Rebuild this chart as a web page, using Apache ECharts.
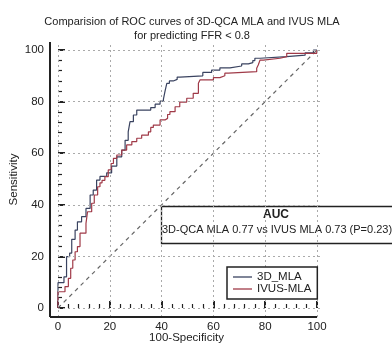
<!DOCTYPE html>
<html><head><meta charset="utf-8">
<script src="https://cdn.jsdelivr.net/npm/echarts@6/dist/echarts.min.js"></script>
<style>html,body{margin:0;padding:0;background:#fff}#c{width:392px;height:346px}</style>
</head><body><div id="c"></div>
<script>
// ---- data ----
const titleLines = ["Comparision of ROC curves of 3D-QCA MLA and IVUS MLA", "for predicting FFR < 0.8"];
const seriesNames = ["3D_MLA", "IVUS-MLA"];
const majorTicks = [0, 20, 40, 60, 80, 100];
const minorTicks = [4, 8, 12, 16, 24, 28, 32, 36, 44, 48, 52, 56, 64, 68, 72, 76, 84, 88, 92, 96];
// 3D_MLA : 100-specificity (x) where the curve steps up, sensitivity (y) after the step
const qcaSpec = [0, 0, 2.3, 3.3, 4.5, 5.3, 6.6, 7.5, 9.1, 10.8, 12.4, 13.6, 14.9, 16.2, 18.8, 20.7, 22.7, 24.6, 25.9, 27.1, 27.8, 29.1, 30.4, 35.8, 37.5, 39.4, 40.7, 41.3, 42.0, 43.0, 44.5, 46.0, 47.1, 55.9, 59.3, 62.5, 66.4, 70.9, 73.5, 75.2, 76.0, 78.0, 88.3, 95.4, 98.6, 100];
const qcaSens = [0, 9.8, 12.1, 19.9, 21.3, 26.6, 30.2, 33.4, 35.4, 38.6, 43.8, 45.7, 49.6, 51.0, 52.4, 55.0, 58.6, 61.2, 65.0, 68.3, 72.2, 74.8, 76.7, 77.7, 79.0, 80.2, 81.0, 84.0, 87.1, 88.0, 88.6, 89.5, 90.0, 91.3, 92.2, 93.1, 93.8, 94.6, 95.1, 95.9, 96.8, 97.4, 98.0, 98.9, 100, 100];
// IVUS-MLA
const ivusSpec = [0, 0, 2.7, 4.0, 4.9, 5.7, 6.6, 7.5, 8.5, 10.8, 11.4, 13.0, 14.0, 15.3, 16.2, 17.0, 18.1, 19.4, 20.5, 21.4, 22.7, 24.6, 26.5, 28.5, 30.4, 32.3, 34.9, 35.8, 36.8, 39.4, 41.3, 42.3, 43.2, 45.2, 47.0, 49.7, 52.2, 54.2, 54.8, 60.0, 62.5, 64.4, 65.8, 76.7, 77.3, 78.0, 79.3, 85.7, 88.3, 99.9, 100];
const ivusSens = [0, 6.3, 8.3, 11.5, 15.4, 18.6, 21.8, 23.8, 29.0, 32.8, 37.3, 40.6, 43.8, 47.0, 48.5, 49.5, 50.9, 53.5, 56.0, 58.0, 59.3, 61.2, 63.2, 64.5, 65.8, 67.0, 68.3, 70.0, 70.9, 72.9, 73.5, 75.0, 76.1, 78.0, 79.8, 81.3, 83.2, 87.1, 88.4, 89.3, 90.0, 91.0, 91.6, 92.9, 94.2, 96.1, 96.8, 97.4, 98.7, 100, 100];
const chanceLine = [[0, 0], [100, 100]];
const aucTitle = "AUC";
const aucText = "3D-QCA MLA 0.77 vs IVUS MLA 0.73 (P=0.23)";
const xName = "100-Specificity";
const yName = "Sensitivity";

// ---- chart ----
const FONT = "'Liberation Sans', Arial, sans-serif";
const X_MIN = -3.09, X_MAX = 102.3, Y_MIN = -3.49, Y_MAX = 103.1;
const zip = (a, b) => a.map((v, i) => [v, b[i]]);
const gridLines = [];
majorTicks.forEach(v => {
  gridLines.push([{ coord: [v, Y_MIN] }, { coord: [v, Y_MAX] }]);
  gridLines.push([{ coord: [0, v] }, { coord: [X_MAX, v] }]);
});
const axisFrame = [
  [{ coord: [X_MIN, Y_MIN] }, { coord: [100, Y_MIN] }],
  [{ coord: [X_MIN, Y_MIN] }, { coord: [X_MIN, Y_MAX] }]
];
const chart = echarts.init(document.getElementById('c'), null, { renderer: 'canvas' });
chart.setOption({
  animation: false,
  backgroundColor: '#fff',
  textStyle: { fontFamily: FONT },
  title: {
    text: titleLines.join('\n'),
    left: 187, top: 10, textAlign: 'center',
    textStyle: { fontFamily: FONT, fontSize: 11, fontWeight: 'normal', color: '#222', lineHeight: 14 }
  },
  grid: { left: 50, top: 42, width: 273, height: 275, outerBoundsMode: 'none', containLabel: false },
  legend: {
    data: seriesNames.map(n => ({ name: n, icon: 'rect' })), orient: 'vertical', left: 227, top: 267,
    padding: [4, 6, 4, 6], itemGap: 0, itemWidth: 19, itemHeight: 1.3,
    borderColor: '#222', borderWidth: 1.5, backgroundColor: '#fff', z: 20,
    textStyle: { fontFamily: FONT, fontSize: 11.5, color: '#222', lineHeight: 12 }
  },
  xAxis: [
    { type: 'value', min: X_MIN, max: X_MAX, position: 'bottom',
      name: xName, nameLocation: 'middle', nameGap: 15, nameMoveOverlap: false,
      nameTextStyle: { fontFamily: FONT, fontSize: 11.5, color: '#222' },
      axisLine: { show: false },
      axisTick: { show: true, inside: true, length: 7, customValues: majorTicks, lineStyle: { color: '#222', width: 2 } },
      axisLabel: { show: true, customValues: majorTicks, margin: 4, fontFamily: FONT, fontSize: 11.5, color: '#222' },
      splitLine: { show: false } },
    { type: 'value', min: X_MIN, max: X_MAX, position: 'bottom',
      axisLine: { show: false },
      axisTick: { show: true, inside: true, length: 4, customValues: minorTicks, lineStyle: { color: '#222', width: 1.2 } },
      axisLabel: { show: false }, splitLine: { show: false } }
  ],
  yAxis: [
    { type: 'value', min: Y_MIN, max: Y_MAX, position: 'left',
      name: yName, nameLocation: 'middle', nameGap: 30, nameMoveOverlap: false,
      nameTextStyle: { fontFamily: FONT, fontSize: 11.5, color: '#222' },
      axisLine: { show: false },
      axisTick: { show: true, inside: true, length: 7, customValues: majorTicks, lineStyle: { color: '#222', width: 2 } },
      axisLabel: { show: true, customValues: majorTicks, margin: 6, fontFamily: FONT, fontSize: 11.5, color: '#222' },
      splitLine: { show: false } },
    { type: 'value', min: Y_MIN, max: Y_MAX, position: 'left',
      axisLine: { show: false },
      axisTick: { show: true, inside: true, length: 4, customValues: minorTicks, lineStyle: { color: '#222', width: 1.2 } },
      axisLabel: { show: false }, splitLine: { show: false } }
  ],
  series: [
    { name: 'chance', type: 'line', data: chanceLine, symbol: 'none', z: 1, silent: true,
      lineStyle: { color: '#666', width: 1.2, type: [4, 4] },
      markLine: { silent: true, symbol: ['none', 'none'], label: { show: false },
        lineStyle: { color: '#aaa', width: 1, type: [2, 3] }, data: gridLines } },
    { name: seriesNames[0], type: 'line', data: zip(qcaSpec, qcaSens), step: 'end', symbol: 'none', z: 3,
      itemStyle: { color: '#3a4360' }, lineStyle: { color: '#3a4360', width: 1.2 } },
    { name: seriesNames[1], type: 'line', data: zip(ivusSpec, ivusSens), step: 'end', symbol: 'none', z: 3,
      itemStyle: { color: '#a03a48' }, lineStyle: { color: '#a03a48', width: 1.2 } },
    { name: 'frame', type: 'line', data: [], z: 6, silent: true,
      markLine: { silent: true, symbol: ['none', 'none'], label: { show: false },
        lineStyle: { color: '#222', width: 2, type: 'solid' }, data: axisFrame } }
  ],
  graphic: [
    { type: 'group', z: 50, children: [
      { type: 'rect', shape: { x: 161.5, y: 206.5, width: 240, height: 37 },
        style: { fill: '#fff', stroke: '#222', lineWidth: 1.3 } },
      { type: 'text', x: 276, y: 215, style: { text: aucTitle, font: 'bold 12px ' + FONT, fill: '#222', textAlign: 'center', textVerticalAlign: 'middle' } },
      { type: 'text', x: 277, y: 230, style: { text: aucText, font: '11px ' + FONT, fill: '#222', textAlign: 'center', textVerticalAlign: 'middle' } }
    ] }
  ]
});
</script></body></html>
